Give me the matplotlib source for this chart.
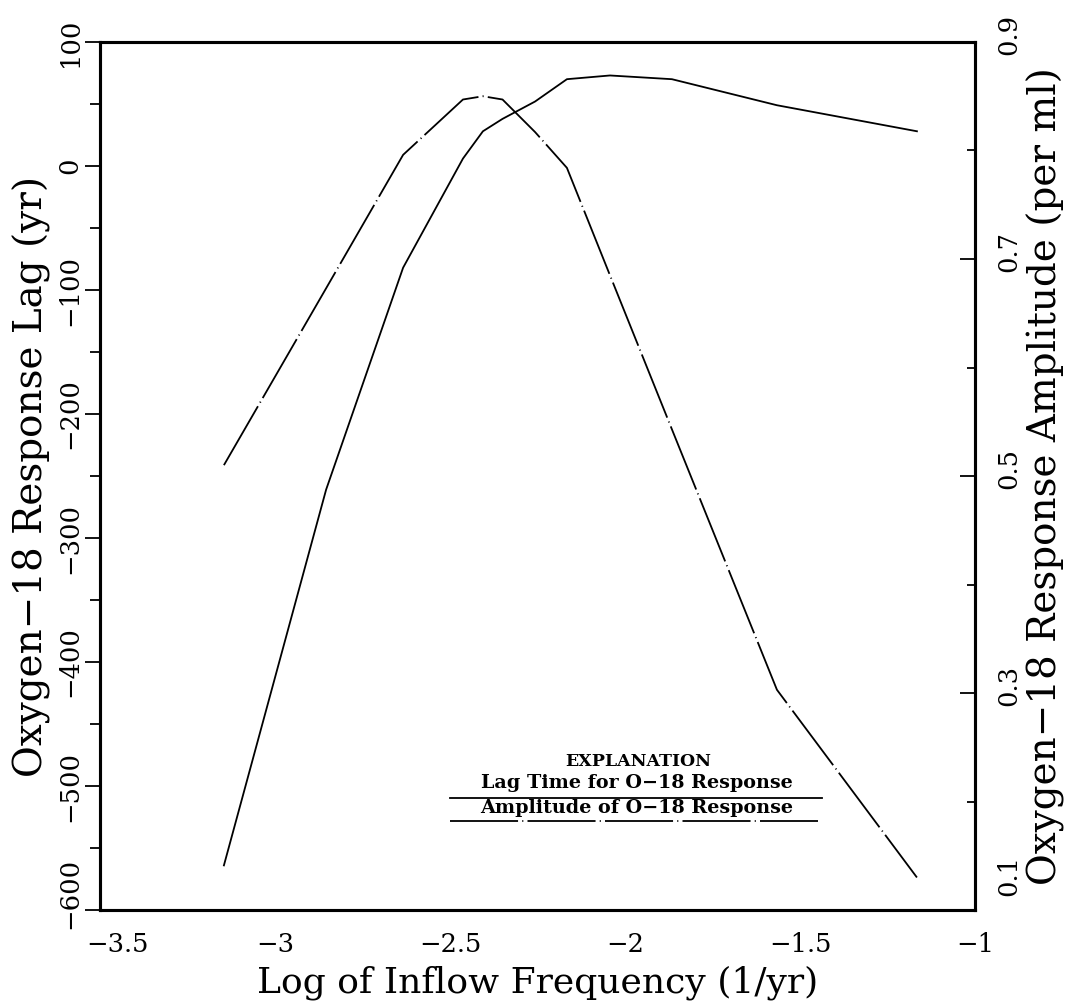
import numpy as np
import matplotlib
matplotlib.use("Agg")
import matplotlib.pyplot as plt
import matplotlib.transforms as mtransforms
from matplotlib.ticker import MultipleLocator, FixedLocator

plt.rcParams['font.family'] = ['DejaVu Serif']
plt.rcParams['lines.scale_dashes'] = False

# log of inflow frequency (1/yr)
log_freq = [-3.146, -2.854, -2.634, -2.463, -2.406, -2.35, -2.257, -2.166, -2.043, -1.866, -1.566, -1.166]
# lag time for O-18 response (yr), left axis
lag_time = [-564, -261, -82, 6, 28, 38, 52, 70, 73, 70, 49, 28]
# amplitude of O-18 response (per ml), right axis
amplitude = [0.51, 0.673, 0.796, 0.847, 0.85, 0.847, 0.817, 0.784, 0.685, 0.543, 0.303, 0.13]

x_ticks = [-3.5, -3, -2.5, -2, -1.5, -1]
lag_ticks = [-600, -500, -400, -300, -200, -100, 0, 100]
amp_ticks = [0.1, 0.3, 0.5, 0.7, 0.9]

fig = plt.figure(figsize=(10.73, 10.07), dpi=100)
ax = fig.add_axes([0.0932, 0.0963, 0.8155, 0.862])
ax2 = ax.twinx()

dashdot = (0, (49, 3, 0.8, 3))

ax.plot(log_freq, lag_time, color='black', lw=1.3)
ax2.plot(log_freq, amplitude, color='black', lw=1.3, linestyle=dashdot)

ax.set_xticks(x_ticks)
ax.set_xticklabels([f'{v:g}'.replace('-', '\u2212') for v in x_ticks])
ax.set_yticks(lag_ticks)
ax.set_yticklabels([str(v).replace('-', '\u2212') for v in lag_ticks],
                   rotation=90, va='center')
ax.yaxis.set_minor_locator(MultipleLocator(50))
ax2.set_yticks(amp_ticks)
ax2.set_yticklabels([f'{v:.1f}' for v in amp_ticks], rotation=90, va='center')
ax2.yaxis.set_minor_locator(FixedLocator([0.2, 0.4, 0.6, 0.8]))

ax.set_xlim(-3.5, -1)
ax.set_ylim(-600, 100)
ax2.set_ylim(0.1, 0.9)

ax.tick_params(axis='x', length=0, pad=16, labelsize=18.5)
ax.tick_params(axis='y', which='major', direction='out', length=11, width=1.3,
               labelsize=18.5, pad=1.5)
ax.tick_params(axis='y', which='minor', direction='out', length=7, width=1.3)

ax2.tick_params(axis='y', which='major', direction='in', length=11, width=1.3,
                labelsize=18.5, pad=15)
ax2.tick_params(axis='y', which='minor', direction='in', length=6, width=1.3)

# nudge the corner labels apart, as on the original plot
def shift(lab, dx, dy):
    lab.set_transform(lab.get_transform() +
                      mtransforms.ScaledTranslation(dx, dy, fig.dpi_scale_trans))

shift(ax.get_xticklabels()[0], 0.17, 0)
shift(ax.get_yticklabels()[0], 0, 0.17)
for i, lab in enumerate(ax2.get_yticklabels()):
    shift(lab, 0, 0.35 if i == 0 else 0.08)

for sp in ax.spines.values():
    sp.set_linewidth(2.2)
for sp in ax2.spines.values():
    sp.set_linewidth(2.2)

ax.set_xlabel('Log of Inflow Frequency (1/yr)', fontsize=26, labelpad=6)
ax.set_ylabel('Oxygen\u221218 Response Lag (yr)', fontsize=28, labelpad=5)
ax2.set_ylabel('Oxygen\u221218 Response Amplitude (per ml)', fontsize=28,
               rotation=90, labelpad=4)

# explanation block
ax.text(0.615, 0.171, 'EXPLANATION', transform=ax.transAxes, ha='center', va='center',
        fontsize=12.5, fontweight='bold')
ax.text(0.613, 0.146, 'Lag Time for O\u221218 Response', transform=ax.transAxes,
        ha='center', va='center', fontsize=13.8, fontweight='bold')
ax.plot([0.40, 0.825], [0.129, 0.129], transform=ax.transAxes, color='black', lw=1.3)
ax.text(0.613, 0.118, 'Amplitude of O\u221218 Response', transform=ax.transAxes,
        ha='center', va='center', fontsize=13.8, fontweight='bold')
ax.plot([0.40, 0.82], [0.103, 0.103], transform=ax.transAxes, color='black', lw=1.3,
        linestyle=dashdot)

fig.savefig('out.png', dpi=100)
